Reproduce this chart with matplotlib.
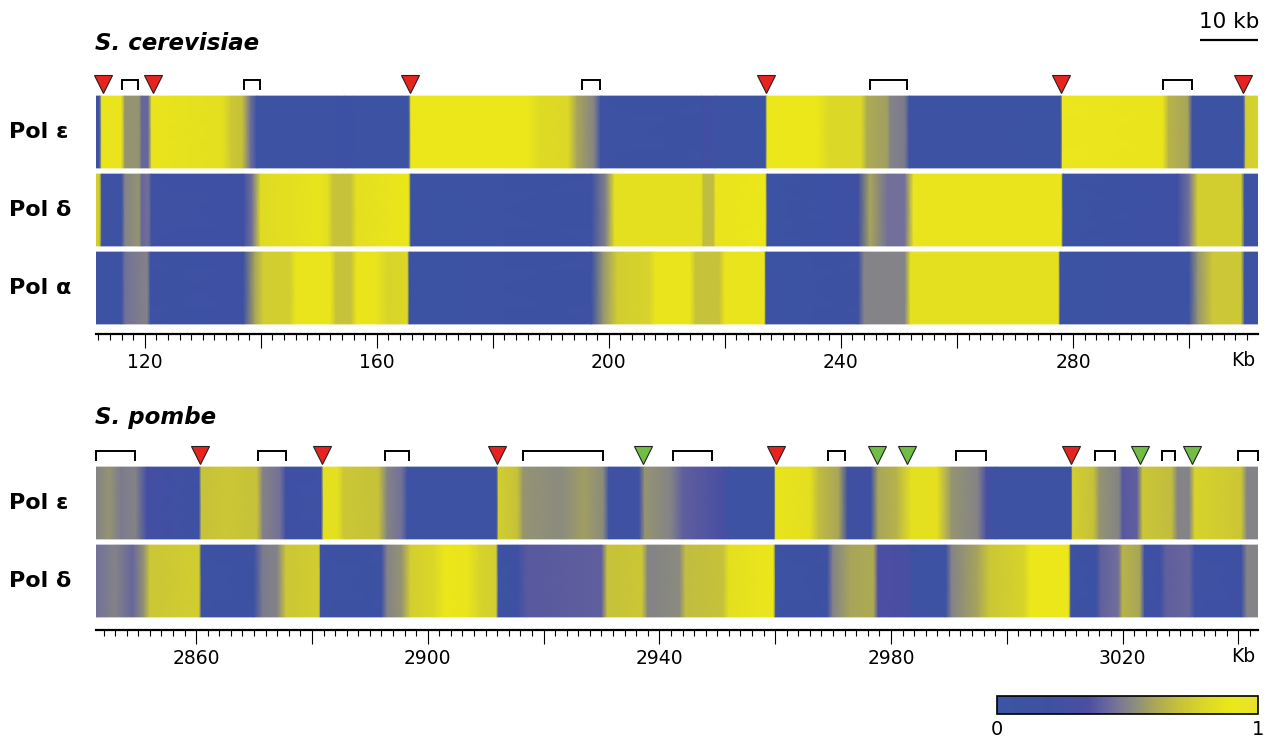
import numpy as np
import matplotlib
matplotlib.use("Agg")
import matplotlib.pyplot as plt
from matplotlib.colors import LinearSegmentedColormap

# ---------------- data ----------------
sc_title = "S. cerevisiae"
sp_title = "S. pombe"
sc_rows = ["Pol ε", "Pol δ", "Pol α"]
sp_rows = ["Pol ε", "Pol δ"]

# S. cerevisiae profiles (kb position, value 0..1)
sc_eps_pos = [111.6, 112.2, 112.6, 116.0, 116.6, 119.0, 119.5, 120.6, 121.2, 133.5, 135.0, 136.8, 138.2, 139.3,
              153.0, 154.5, 156.0, 165.5, 165.9, 186.0, 188.0, 193.0, 194.5, 197.5, 198.6, 216.0, 217.0, 218.3,
              227.0, 227.3, 236.0, 238.0, 243.5, 244.5, 248.0, 248.5, 251.0, 251.8, 277.9, 278.2, 295.5, 296.5,
              299.8, 300.6, 309.4, 309.8, 311.9]
sc_eps_val = [0.15, 0.15, 0.88, 0.88, 0.55, 0.55, 0.42, 0.42, 0.88, 0.85, 0.72, 0.70, 0.45, 0.12,
              0.12, 0.20, 0.12, 0.10, 0.90, 0.90, 0.82, 0.80, 0.60, 0.50, 0.12, 0.15, 0.25, 0.12,
              0.10, 0.90, 0.90, 0.80, 0.80, 0.62, 0.58, 0.50, 0.48, 0.12, 0.10, 0.92, 0.88, 0.65,
              0.60, 0.12, 0.10, 0.75, 0.78]

sc_del_pos = [111.6, 112.2, 112.6, 116.0, 116.6, 119.0, 119.5, 120.6, 121.2, 137.0, 138.5, 140.0, 150.0, 151.5,
              152.5, 155.5, 156.5, 165.5, 165.9, 197.0, 199.5, 201.0, 210.0, 216.0, 216.3, 218.0, 218.4, 227.0,
              227.3, 243.0, 245.0, 248.0, 251.0, 252.5, 278.0, 278.3, 298.0, 300.0, 301.5, 309.0, 309.6, 311.9]
sc_del_val = [0.75, 0.75, 0.12, 0.12, 0.50, 0.55, 0.42, 0.45, 0.15, 0.20, 0.45, 0.82, 0.88, 0.85,
              0.70, 0.70, 0.85, 0.90, 0.10, 0.15, 0.50, 0.85, 0.85, 0.85, 0.68, 0.68, 0.88, 0.90,
              0.10, 0.20, 0.60, 0.45, 0.45, 0.88, 0.88, 0.10, 0.20, 0.45, 0.75, 0.75, 0.12, 0.12]

sc_alp_pos = [111.6, 116.0, 116.6, 120.4, 121.0, 137.0, 139.0, 140.5, 145.0, 146.0, 152.0, 153.0, 155.5, 156.5,
              160.0, 162.0, 165.3, 165.6, 197.0, 199.0, 201.5, 207.0, 208.0, 214.0, 215.0, 219.0, 220.0, 226.8,
              227.1, 243.0, 244.0, 251.0, 252.0, 277.5, 277.8, 300.0, 301.5, 304.0, 309.0, 309.6, 311.9]
sc_alp_val = [0.12, 0.12, 0.45, 0.50, 0.12, 0.18, 0.60, 0.75, 0.75, 0.88, 0.88, 0.70, 0.70, 0.88,
              0.88, 0.78, 0.80, 0.10, 0.15, 0.55, 0.75, 0.78, 0.88, 0.88, 0.70, 0.70, 0.88, 0.88,
              0.10, 0.15, 0.50, 0.50, 0.85, 0.85, 0.10, 0.12, 0.55, 0.72, 0.72, 0.12, 0.12]

sc_red = [112.8, 121.4, 165.7, 227.1, 277.9, 309.3]
sc_br_start = [116.0, 137.1, 195.3, 245.0, 295.6]
sc_br_end = [118.8, 139.8, 198.4, 251.4, 300.5]
sc_ticks = [120, 140, 160, 180, 200, 220, 240, 260, 280, 300]
sc_ticklabels = ["120", "", "160", "", "200", "", "240", "", "280", ""]

# S. pombe profiles
sp_eps_pos = [2842.7, 2845.0, 2847.0, 2849.5, 2851.5, 2860.5, 2860.9, 2865.0, 2870.5, 2871.5, 2874.5, 2875.5,
              2881.6, 2882.0, 2884.5, 2885.5, 2891.5, 2893.0, 2895.5, 2896.5, 2911.9, 2912.2, 2915.5, 2916.5,
              2923.0, 2927.0, 2930.3, 2931.3, 2936.5, 2937.5, 2942.0, 2944.0, 2951.0, 2952.0, 2959.8, 2960.1,
              2966.0, 2967.5, 2971.0, 2972.5, 2976.5, 2977.8, 2981.0, 2983.5, 2988.0, 2990.5, 2995.0, 2996.5,
              2998.0, 3011.1, 3011.4, 3015.0, 3016.0, 3019.4, 3020.0, 3022.5, 3023.5, 3028.5, 3029.5, 3031.5,
              3032.5, 3040.5, 3041.5, 3043.4]
sp_eps_val = [0.50, 0.55, 0.48, 0.50, 0.25, 0.15, 0.70, 0.72, 0.70, 0.50, 0.45, 0.20,
              0.15, 0.85, 0.85, 0.72, 0.70, 0.50, 0.45, 0.12, 0.12, 0.75, 0.70, 0.55,
              0.52, 0.58, 0.52, 0.15, 0.15, 0.55, 0.50, 0.40, 0.30, 0.12, 0.10, 0.88,
              0.85, 0.68, 0.60, 0.20, 0.20, 0.60, 0.65, 0.85, 0.85, 0.55, 0.50, 0.30,
              0.12, 0.12, 0.75, 0.70, 0.55, 0.50, 0.38, 0.40, 0.72, 0.68, 0.50, 0.50,
              0.78, 0.72, 0.50, 0.50]

sp_del_pos = [2842.7, 2846.0, 2849.0, 2851.0, 2852.0, 2860.5, 2860.9, 2870.0, 2871.5, 2874.0, 2875.5, 2881.2,
              2881.5, 2892.0, 2893.0, 2895.5, 2897.0, 2901.0, 2903.0, 2907.0, 2909.0, 2911.8, 2912.2, 2915.5,
              2917.0, 2930.0, 2931.0, 2937.0, 2938.0, 2943.5, 2944.5, 2951.0, 2952.0, 2959.7, 2960.1, 2969.0,
              2970.0, 2973.0, 2977.0, 2977.8, 2983.0, 2984.0, 2989.5, 2990.5, 2995.0, 2997.0, 3003.0, 3004.0,
              3010.7, 3011.1, 3015.5, 3016.2, 3019.3, 3020.0, 3023.0, 3023.8, 3026.5, 3027.5, 3031.5, 3032.5,
              3040.5, 3041.5, 3043.4]
sp_del_val = [0.45, 0.50, 0.42, 0.55, 0.72, 0.75, 0.12, 0.15, 0.48, 0.50, 0.72, 0.75,
              0.12, 0.15, 0.50, 0.55, 0.75, 0.80, 0.90, 0.88, 0.78, 0.75, 0.12, 0.15,
              0.38, 0.40, 0.70, 0.72, 0.50, 0.52, 0.68, 0.70, 0.85, 0.90, 0.12, 0.15,
              0.50, 0.60, 0.62, 0.35, 0.30, 0.12, 0.12, 0.50, 0.60, 0.72, 0.78, 0.90,
              0.90, 0.12, 0.15, 0.40, 0.45, 0.65, 0.60, 0.15, 0.20, 0.40, 0.42, 0.15,
              0.18, 0.50, 0.50]

sp_red = [2860.7, 2881.8, 2912.0, 2960.2, 3011.1]
sp_green = [2937.2, 2977.6, 2982.8, 3023.0, 3032.0]
sp_br_start = [2842.7, 2870.7, 2892.6, 2916.5, 2942.4, 2969.2, 2991.3, 3015.3, 3026.8, 3040.0]
sp_br_end = [2849.5, 2875.5, 2896.8, 2930.3, 2949.1, 2972.1, 2996.4, 3018.7, 3029.1, 3043.4]
sp_ticks = [2860, 2880, 2900, 2920, 2940, 2960, 2980, 3000, 3020, 3040]
sp_ticklabels = ["2860", "", "2900", "", "2940", "", "2980", "", "3020", ""]

scale_bar_kb = 10
cbar_ticks = [0, 1]
cbar_ticklabels = ["0", "1"]

# ---------------- style ----------------
plt.rcParams["font.family"] = ["DejaVu Sans"]
cmap = LinearSegmentedColormap.from_list("bg", [
    (0.00, "#3a55a3"), (0.20, "#3f50a3"), (0.35, "#4d4ea2"), (0.45, "#72709a"),
    (0.52, "#8a8a80"), (0.60, "#a8a55a"), (0.70, "#c6c23a"), (0.80, "#dcd827"),
    (0.90, "#ece71a"), (1.00, "#e6e22c")])
RED = "#e8221f"
GREEN = "#72bd45"

W, H = 1267, 739
fig = plt.figure(figsize=(W / 100, H / 100), dpi=100)

HALF = 0.46  # half row height in row units (row spacing 1 == 78 px)
PX = 78.0
AX_L, AX_W = 96, 1162


def make_panel(top_px, bottom_px, first_center_px, xlim, rows, profiles, ticks, ticklabels):
    ax = fig.add_axes([AX_L / W, 1 - bottom_px / H, AX_W / W, (bottom_px - top_px) / H])
    ax.set_xlim(*xlim)
    ax.set_ylim((bottom_px - first_center_px) / PX, (top_px - first_center_px) / PX)
    for i, (pos, val) in enumerate(profiles):
        pos = np.asarray(pos, float)
        val = np.asarray(val, float)
        X = np.vstack([pos, pos])
        Y = np.vstack([np.full_like(pos, i - HALF), np.full_like(pos, i + HALF)])
        C = np.vstack([val, val])
        ax.pcolormesh(X, Y, C, shading="gouraud", cmap=cmap, vmin=0, vmax=1)
        ax.text(-(AX_L - 9) / AX_W, i, rows[i], transform=ax.get_yaxis_transform(), ha="left",
                va="center", fontsize=16, fontweight="bold")
    for s in ["top", "left", "right"]:
        ax.spines[s].set_visible(False)
    ax.spines["bottom"].set_linewidth(1.6)
    ax.set_yticks([])
    ax.set_xticks(ticks)
    ax.set_xticklabels(ticklabels, fontsize=13.5)
    lo = int(np.ceil(xlim[0] / 2.0) * 2)
    ax.set_xticks(np.arange(lo, xlim[1], 2), minor=True)
    ax.tick_params(axis="x", which="major", length=10, width=0.8, pad=4)
    ax.tick_params(axis="x", which="minor", length=4.5, width=0.8)
    ax.text((1243 - AX_L) / AX_W, -(20 + 7) / (bottom_px - top_px), "Kb", transform=ax.transAxes,
            ha="center", va="center", fontsize=13.5)
    return ax


def add_marks(ax, red, green, bstart, bend):
    ytri = -HALF - 12.0 / PX
    ax.plot(red, [ytri] * len(red), linestyle="none", marker="v", ms=12.5, mfc=RED, mec="#222222",
            mew=0.8, clip_on=False)
    if green:
        ax.plot(green, [ytri] * len(green), linestyle="none", marker="v", ms=12.5, mfc=GREEN,
                mec="#222222", mew=0.8, clip_on=False)
    ytop = -HALF - 16.0 / PX
    ybot = -HALF - 7.0 / PX
    for s, e in zip(bstart, bend):
        ax.plot([s, s, e, e], [ybot, ytop, ytop, ybot], color="black", lw=1.4, clip_on=False,
                solid_joinstyle="miter")


ax1 = make_panel(70, 334, 132, (111.6, 311.9), sc_rows,
                 [(sc_eps_pos, sc_eps_val), (sc_del_pos, sc_del_val), (sc_alp_pos, sc_alp_val)],
                 sc_ticks, sc_ticklabels)
add_marks(ax1, sc_red, [], sc_br_start, sc_br_end)

ax2 = make_panel(440, 630, 503, (2842.7, 3043.4), sp_rows,
                 [(sp_eps_pos, sp_eps_val), (sp_del_pos, sp_del_val)],
                 sp_ticks, sp_ticklabels)
add_marks(ax2, sp_red, sp_green, sp_br_start, sp_br_end)

# titles
fig.text(95 / W, 1 - 50 / H, sc_title, fontsize=16.5, fontweight="bold", style="italic", va="baseline")
fig.text(95 / W, 1 - 424 / H, sp_title, fontsize=16.5, fontweight="bold", style="italic", va="baseline")

# scale bar (10 kb) in top-panel data coordinates
ybar = (40 - 132) / PX
x1 = 311.9
ax1.plot([x1 - scale_bar_kb, x1], [ybar, ybar], color="black", lw=1.6, clip_on=False,
         solid_capstyle="butt")
ax1.text(x1 - scale_bar_kb / 2, (22 - 132) / PX, f"{scale_bar_kb} kb", ha="center", va="center",
         fontsize=15.5)

# colorbar
cax = fig.add_axes([997 / W, 1 - 714 / H, 261 / W, 18 / H])
sm = plt.cm.ScalarMappable(cmap=cmap, norm=plt.Normalize(0, 1))
cb = fig.colorbar(sm, cax=cax, orientation="horizontal", ticks=cbar_ticks)
cb.outline.set_linewidth(1.2)
cb.ax.tick_params(length=0, labelsize=14, pad=4)
cb.ax.set_xticklabels(cbar_ticklabels)

fig.savefig("out.png", dpi=100)
